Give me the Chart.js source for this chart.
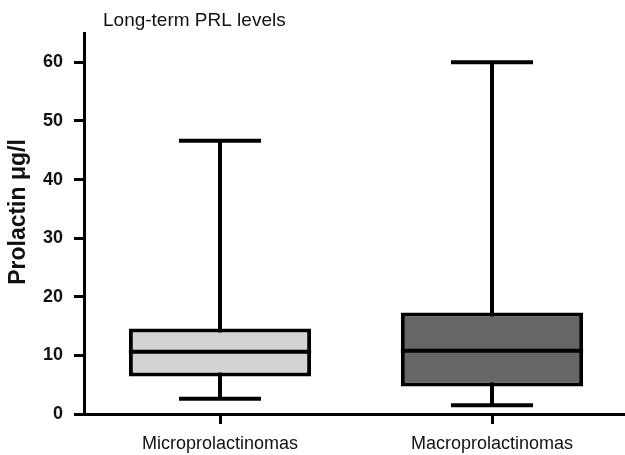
<!DOCTYPE html>
<html>
<head>
<meta charset="utf-8">
<script src="https://cdn.jsdelivr.net/npm/chart.js@4"></script>
<style>
  html, body { margin: 0; padding: 0; background: #fff; overflow: hidden; }
  #wrap { width: 628px; height: 455px; }
</style>
</head>
<body>
<div id="wrap"><canvas id="chart"></canvas></div>
<script>
// ===== DATOS =====
const categories = ['Microprolactinomas', 'Macroprolactinomas'];
const mins    = [2.6, 1.5];
const q1s     = [6.4, 4.7];
const medians = [10.6, 10.8];
const q3s     = [14.6, 17.3];
const maxes   = [46.6, 60];
const boxColors = ['#d3d3d3', '#666666'];
const yTicks = [0, 10, 20, 30, 40, 50, 60];
const chartTitle = 'Long-term PRL levels';
const yTitle = 'Prolactin \u03bcg/l';

const FONT = "'Liberation Sans', Arial, sans-serif";

// ===== BIGOTES, MEDIANAS Y TEXTOS =====
const boxPlotPlugin = {
  id: 'boxPlot',
  beforeDatasetsDraw: function(chart) {
    const ctx = chart.ctx;
    const x = chart.scales.x, y = chart.scales.y;
    const meta = chart.getDatasetMeta(0);
    ctx.save();
    ctx.strokeStyle = '#000';
    ctx.lineWidth = 4;
    categories.forEach(function(c, i) {
      const cx = x.getPixelForValue(i);
      const capHalf = meta.data[i].width * 0.225;
      ctx.beginPath();
      ctx.moveTo(cx, y.getPixelForValue(mins[i]));
      ctx.lineTo(cx, y.getPixelForValue(maxes[i]));
      ctx.stroke();
      [mins[i], maxes[i]].forEach(function(v) {
        const py = y.getPixelForValue(v);
        ctx.beginPath();
        ctx.moveTo(cx - capHalf, py);
        ctx.lineTo(cx + capHalf, py);
        ctx.stroke();
      });
    });
    ctx.restore();
  },
  afterDatasetsDraw: function(chart) {
    const ctx = chart.ctx;
    const x = chart.scales.x, y = chart.scales.y;
    const meta = chart.getDatasetMeta(0);
    ctx.save();
    ctx.strokeStyle = '#000';
    ctx.lineWidth = 4;
    categories.forEach(function(c, i) {
      const cx = x.getPixelForValue(i);
      const half = meta.data[i].width / 2;
      const py = y.getPixelForValue(medians[i]);
      ctx.beginPath();
      ctx.moveTo(cx - half, py);
      ctx.lineTo(cx + half, py);
      ctx.stroke();
    });

    // titulo del grafico
    ctx.fillStyle = '#111';
    ctx.font = '19px ' + FONT;
    ctx.textBaseline = 'middle';
    ctx.textAlign = 'left';
    ctx.fillText(chartTitle, chart.chartArea.left + 19, 21);

    // titulo del eje Y
    ctx.translate(19, 212);
    ctx.rotate(-Math.PI / 2);
    ctx.font = 'bold 23px ' + FONT;
    ctx.textAlign = 'center';
    ctx.fillText(yTitle, 0, 0);
    ctx.restore();
  }
};

new Chart(document.getElementById('chart'), {
  type: 'bar',
  data: {
    labels: categories,
    datasets: [{
      data: q1s.map(function(q, i) { return [q, q3s[i]]; }),
      backgroundColor: boxColors,
      borderColor: '#000',
      borderWidth: 4,
      borderSkipped: false,
      barPercentage: 0.67,
      categoryPercentage: 1
    }]
  },
  options: {
    responsive: true,
    maintainAspectRatio: false,
    animation: false,
    layout: { padding: { top: 33, right: 0, left: 0, bottom: 0 } },
    plugins: { legend: { display: false }, tooltip: { enabled: false } },
    scales: {
      x: {
        grid: { offset: false, drawOnChartArea: false, tickLength: 10, lineWidth: 3, color: '#000' },
        border: { color: '#000', width: 3 },
        ticks: { color: '#111', font: { family: FONT, size: 18 }, padding: 9 },
        afterFit: function(scale) { scale.height = 41; }
      },
      y: {
        min: 0,
        max: 65,
        afterBuildTicks: function(scale) {
          scale.ticks = yTicks.map(function(v) { return { value: v }; });
        },
        grid: { drawOnChartArea: false, tickLength: 10, lineWidth: 3, color: '#000' },
        border: { color: '#000', width: 3 },
        ticks: { color: '#111', font: { family: FONT, size: 18, weight: 'bold' }, padding: 11 },
        afterFit: function(scale) { scale.width = 84; }
      }
    }
  },
  plugins: [boxPlotPlugin]
});
</script>
</body>
</html>
